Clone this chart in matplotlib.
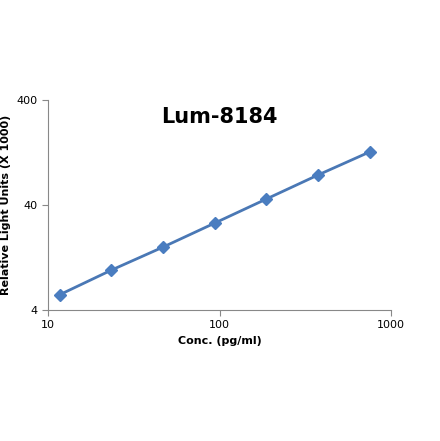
import matplotlib.pyplot as plt
from matplotlib.ticker import FixedLocator, NullLocator

conc = [11.72, 23.44, 46.88, 93.75, 187.5, 375, 750]
rlu = [5.6, 9.6, 15.9, 26.9, 45.6, 77.2, 128]

fig = plt.figure(figsize=(4.4, 4.41), dpi=100)
ax = fig.add_axes([48 / 440, 1 - 310 / 441, 343 / 440, 210 / 441])
ax.plot(conc, rlu, color="#4a78b5", lw=2, marker="D", ms=6,
        markerfacecolor="#4a7dc0", markeredgecolor="#4a7dc0")
ax.set_xscale("log")
ax.set_yscale("log")
ax.set_xlim(10, 1000)
ax.set_ylim(4, 400)
ax.xaxis.set_major_locator(FixedLocator([10, 100, 1000]))
ax.yaxis.set_major_locator(FixedLocator([4, 40, 400]))
ax.xaxis.set_minor_locator(NullLocator())
ax.yaxis.set_minor_locator(NullLocator())
ax.set_xticklabels(["10", "100", "1000"])
ax.set_yticklabels(["4", "40", "400"])
ax.tick_params(labelsize=8, length=4, color="#888888")
for s in ["top", "right"]:
    ax.spines[s].set_visible(False)
for s in ["left", "bottom"]:
    ax.spines[s].set_color("#888888")
ax.set_xlabel("Conc. (pg/ml)", fontsize=8, fontweight="bold")
ax.set_ylabel("Relative Light Units (X 1000)", fontsize=8, fontweight="bold")
ax.set_title("Lum-8184", fontsize=15, fontweight="bold", y=0.85)
fig.savefig("out.png")
